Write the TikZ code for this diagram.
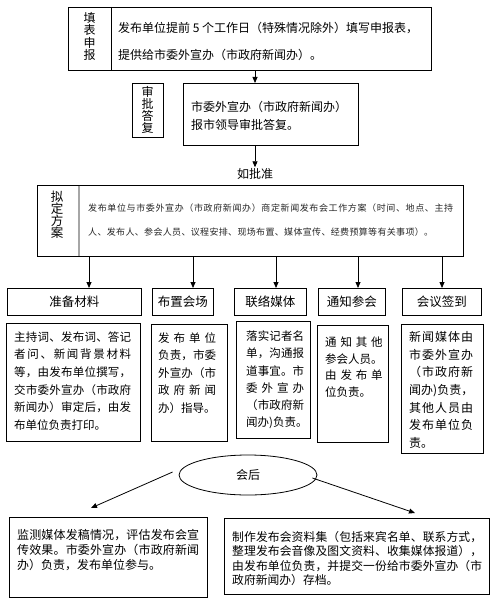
\documentclass[tikz,border=0pt]{standalone}
\usepackage{fontspec}
\setmainfont{Noto Sans CJK SC}
\usetikzlibrary{arrows.meta,shapes.geometric}
\makeatletter
\newcommand\spreadto[2]{\hbox to #1{\def\sprd@sep{}\@tfor\sprd@c:=#2\do{\sprd@sep\sprd@c\def\sprd@sep{\hfill}}}}
\makeatother
\begin{document}
\begin{tikzpicture}[x=1pt,y=-1pt,
  box/.style={draw, line width=0.8pt, inner sep=0pt, anchor=north west},
  hd/.style={box, minimum height=27pt, font=\fontsize{12.5}{13}\selectfont},
  txt/.style={inner sep=0pt, anchor=west, align=left},
  lbl/.style={inner sep=0pt, align=center, font=\fontsize{12}{12.2}\selectfont},
  arr/.style={line width=0.8pt, -{Triangle[length=6pt,width=5pt]}}]
\useasboundingbox (0,0) rectangle (500,599);

% --- row 1: 填表申报
\node[box, minimum width=363pt, minimum height=63pt] (sb) at (68,7) {};
\draw[line width=0.8pt] (111,7) -- (111,70);
\node[lbl] (sbl) at (89.5,36.5) {填\\表\\申\\报};
\node[txt, font=\fontsize{12}{27}\selectfont] (sbt) at (118,41)
  {发布单位提前 5 个工作日（特殊情况除外）填写申报表，\\提供给市委外宣办（市政府新闻办）。};

% --- row 2: 审批答复
\node[box, minimum width=31pt, minimum height=54pt] (spl) at (132,83) {};
\node[lbl] (splt) at (147.5,110) {审\\批\\答\\复};
\node[box, minimum width=175pt, minimum height=62pt] (sp) at (183,83) {};
\node[txt, font=\fontsize{12}{18}\selectfont] (spt) at (191,116)
  {市委外宣办（市政府新闻办）\\报市领导审批答复。};

\coordinate (ax) at (255,0);
\draw[arr] (sb.south -| ax) -- (sp.north -| ax);
\node[inner sep=1pt, font=\fontsize{12}{12}\selectfont] (rz) at (255,174) {如批准};
\draw[arr] (sp.south -| ax) -- (rz.north);

% --- row 3: 拟定方案
\node[box, minimum width=426pt, minimum height=71pt] (nd) at (37,185) {};
\draw[line width=1.8pt, gray!70] (79,185.5) -- (79,255.5);
\node[lbl, font=\fontsize{12.5}{12}\selectfont] (ndl) at (57,215) {拟\\定\\方\\案};
\node[txt, font=\fontsize{9}{24}\selectfont, text=black!85] (ndt) at (88,220)
  {\spreadto{365pt}{发布单位与市委外宣办（市政府新闻办）商定新闻发布会工作方案（时间、地点、主持}\\
   \spreadto{345pt}{人、发布人、参会人员、议程安排、现场布置、媒体宣传、经费预算等有关事项）。}};

% --- headers
\node[hd, minimum width=134pt] (h1) at (7,288) {准备材料};
\node[hd, minimum width=61pt] (h2) at (152,288) {布置会场};
\node[hd, minimum width=72pt] (h3) at (234,288) {联络媒体};
\node[hd, minimum width=67pt] (h4) at (318,288) {通知参会};
\node[hd, minimum width=79pt] (h5) at (402,288) {会议签到};

\coordinate (a1) at (89,0);
\coordinate (a2) at (193,0);
\coordinate (a3) at (276,0);
\coordinate (a4) at (358,0);
\coordinate (a5) at (442,0);
\draw[arr] (nd.south -| a1) -- (h1.north -| a1);
\draw[arr] (nd.south -| a2) -- (h2.north -| a2);
\draw[arr] (nd.south -| a3) -- (h3.north -| a3);
\draw[arr] (nd.south -| a4) -- (h4.north -| a4);
\draw[arr] (nd.south -| a5) -- (h5.north -| a5);

% --- content boxes
\node[box, minimum width=134pt, minimum height=118pt] (c1) at (6,323) {};
\node[box, minimum width=76pt, minimum height=117pt] (c2) at (151,324) {};
\node[box, minimum width=74pt, minimum height=117pt] (c3) at (236,321) {};
\node[box, minimum width=71pt, minimum height=117pt] (c4) at (317,325) {};
\node[box, minimum width=82pt, minimum height=129pt] (c5) at (401,324) {};

\node[txt, font=\fontsize{11.5}{17.6}\selectfont] (c1t) at (14,381)
  {\spreadto{117pt}{主持词、发布词、答记}\\
   \spreadto{117pt}{者问、新闻背景材料}\\
   \spreadto{117pt}{等，由发布单位撰写，}\\
   \spreadto{117pt}{交市委外宣办（市政府}\\
   \spreadto{117pt}{新闻办）审定后，由发}\\
   布单位负责打印。};
\node[txt, font=\fontsize{11.5}{17.5}\selectfont] (c2t) at (158,373)
  {\spreadto{58pt}{发布单位}\\
   \spreadto{58pt}{负责，市委}\\
   \spreadto{58pt}{外宣办（市}\\
   \spreadto{58pt}{政府新闻}\\
   办）指导。};
\node[txt, font=\fontsize{11.5}{17.2}\selectfont] (c3t) at (246,380)
  {\spreadto{58pt}{落实记者名}\\
   \spreadto{58pt}{单，沟通报}\\
   \spreadto{58pt}{道事宜。市}\\
   \spreadto{58pt}{委外宣办}\\
   \spreadto{58pt}{（市政府新}\\
   闻办)负责。};
\node[txt, font=\fontsize{11.5}{16.7}\selectfont] (c4t) at (325,367)
  {\spreadto{57.5pt}{通知其他}\\
   参会人员。\\
   \spreadto{57.5pt}{由发布单}\\
   位负责。};
\node[txt, font=\fontsize{12}{17.7}\selectfont] (c5t) at (409,390)
  {\spreadto{64pt}{新闻媒体由}\\
   \spreadto{64pt}{市委外宣办}\\
   \spreadto{64pt}{（市政府新}\\
   \spreadto{64pt}{闻办)负责，}\\
   \spreadto{64pt}{其他人员由}\\
   \spreadto{64pt}{发布单位负}\\
   责。};

% --- 会后
\node[draw, ellipse, line width=0.8pt, minimum width=138pt, minimum height=40pt,
      inner sep=0pt, font=\fontsize{12}{12}\selectfont] (hh) at (248,475) {会后};

\node[box, minimum width=198pt, minimum height=80pt] (d1) at (9,517) {};
\node[box, minimum width=265pt, minimum height=76pt] (d2) at (224,518) {};

\coordinate (la) at (91,508);
\coordinate (ra) at (415,513);
\draw[arr] ([shift={(-6,-3)}]hh.west) -- (la);
\draw[arr] ([shift={(-5,3)}]hh.east) -- (ra);

\node[txt, font=\fontsize{12}{15}\selectfont] (d1t) at (17,550)
  {\spreadto{182pt}{监测媒体发稿情况，评估发布会宣}\\
   \spreadto{182pt}{传效果。市委外宣办（市政府新闻}\\
   办）负责，发布单位参与。};
\node[txt, font=\fontsize{11.8}{14.5}\selectfont] (d2t) at (232,558.5)
  {\spreadto{250pt}{制作发布会资料集（包括来宾名单、联系方式，}\\
   \spreadto{250pt}{整理发布会音像及图文资料、收集媒体报道），}\\
   \spreadto{250pt}{由发布单位负责，并提交一份给市委外宣办（市}\\
   政府新闻办）存档。};
\end{tikzpicture}
\end{document}
